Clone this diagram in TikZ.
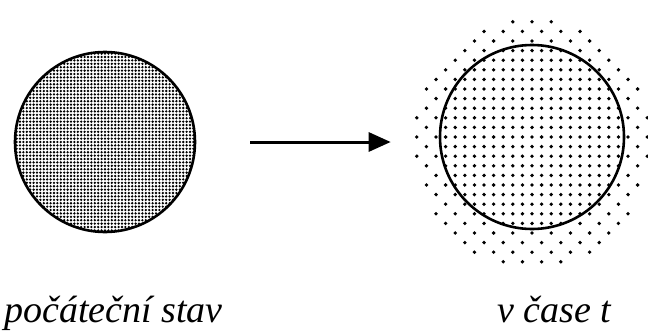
\documentclass[tikz,border=0pt]{standalone}
\usepackage{fontspec}
\setmainfont{Liberation Serif}
\usetikzlibrary{arrows.meta}

\begin{document}
\begin{tikzpicture}[x=1pt, y=1pt,
        rim/.style={draw, circle, line width=2.6pt, inner sep=0pt},
        lbl/.style={font=\fontsize{38}{44}\selectfont\itshape, anchor=base west, inner sep=0pt}
      ]
      \useasboundingbox (0,0) rectangle (648,333);
      \begin{scope}
        \clip (105,191) circle (90);
        \fill \foreach \i in {-27,...,27} {\foreach \j in {-27,...,27} {(105+\i*3.4, 191+\j*3.4) circle (1.3)}};
      \end{scope}
      \foreach \i in {-13,...,13} {
        \foreach \j in {-14,...,14} {
          \pgfmathtruncatemacro\keep{(\i*\i+\j*\j<91) || (iseven(\i+\j) && (\i*9.6/118)^2+((\j*9.6+5)/127)^2<1)}
          \ifnum\keep=1 \fill (532+\i*9.6, 196+\j*9.6) circle (1.9); \fi
        }
      }
      \node[rim, minimum size=180pt] (init) at (105,191) {};
      \node[rim, minimum size=184pt] (later) at (532,196) {};
      \draw[-{Triangle[length=22pt, width=19pt]}, line width=3pt, shorten <=54pt, shorten >=48pt] (init.east) -- (later.west |- init.east);
      \node[lbl] (initlbl) at (4,11) {počáteční stav};
      \node[lbl] (laterlbl) at (497,11) {v čase t};
    \end{tikzpicture}
\end{document}
